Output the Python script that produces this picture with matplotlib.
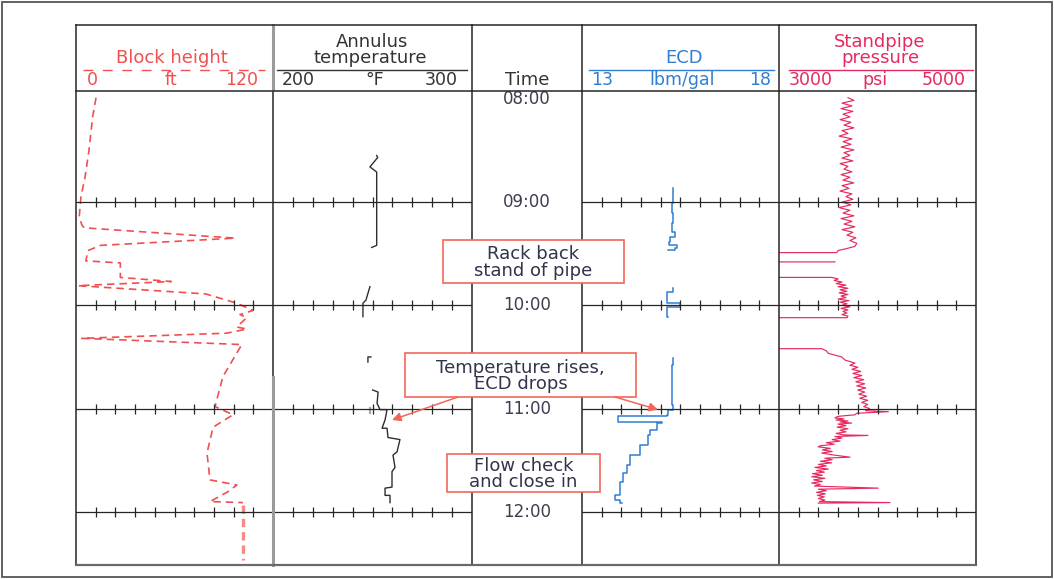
import numpy as np
import matplotlib.pyplot as plt
from matplotlib.patches import Rectangle

plt.rcParams['font.family'] = ['DejaVu Sans']

nan = np.nan

# ---- log data, time in decimal hours ----
block_t = [7.99, 8.17, 8.50, 8.76, 8.95, 9.14, 9.22, 9.25, 9.35, 9.42,
           9.47, 9.57, 9.59, 9.73, 9.77, 9.81, 9.89, 9.98, 10.05, 10.09,
           10.12, 10.21, 10.23, 10.27, 10.32, 10.38, 10.69, 10.98, 11.06, 11.18,
           11.43, 11.69, 11.74, 11.81, 11.90, 11.91]
block_ft = [12.2, 10.2, 7.9, 5.5, 3.0, 2.0, 3.5, 4.9, 97, 15,
            7.3, 6.0, 27, 27, 58, 1.2, 79, 98, 107.8, 99.9,
            104, 97.9, 104, 91.8, 3.5, 101, 89.5, 84.7, 95.6, 83.5,
            79.8, 81.6, 98, 92, 81.6, 101.7]
block_tail_t = [11.93, 12.47]
block_tail_ft = [101.7, 101.7]

temp_t = [8.55, 8.57, 8.66, 8.71, 9.42, 9.44, nan,
          9.82, 9.95, 9.98, 10.11, nan,
          10.55, 10.50, 10.50, nan,
          10.82, 10.84, 10.95, 11.01, 11.01, 11.11, 11.19, 11.19, 11.28, 11.30,
          11.42, 11.45, 11.57, 11.61, 11.76, 11.77, 11.84, 11.84, 11.91]
temp_f = [252.1, 252.6, 248.7, 252.1, 252.1, 249.6, nan,
          248.7, 246.7, 245.2, 245.2, nan,
          247.7, 247.7, 249.2, nan,
          250.1, 252.8, 252.3, 253.8, 257.3, 256.3, 254.8, 257.3, 257.8, 263.8,
          262.3, 260.3, 261.3, 259.8, 259.8, 256.3, 256.3, 258.8, 258.8]
temp_mark_t = [10.99, 11.04]
temp_mark_f = [248.7, 248.7]

ecd_t = [8.86, 9.01, 9.11, 9.20, 9.29, 9.34, 9.39, 9.42, 9.45, 9.46, nan,
         9.83, 9.87, 9.98, 9.98, 10.02, 10.02, 10.11, nan,
         10.51, 10.58, 10.97, 11.01, 11.06, 11.07, 11.13, 11.13, 11.14, 11.21,
         11.26, 11.35, 11.45, 11.55, 11.62, 11.71, 11.82, 11.84, 11.87, 11.88, 11.91]
ecd_ppg = [15.30, 15.28, 15.31, 15.28, 15.36, 15.23, 15.22, 15.40, 15.36, 15.19, nan,
           15.32, 15.15, 15.15, 15.49, 15.49, 15.15, 15.19, nan,
           15.32, 15.28, 15.30, 15.19, 15.15, 13.91, 13.91, 15.02, 14.90, 14.73,
           14.68, 14.47, 14.22, 14.13, 14.04, 13.96, 13.96, 13.84, 13.84, 13.96, 14.01]

# standpipe pressure, first block logged at a fixed sample rate
spp_top_psi = [3700, 3760, 3640, 3740, 3630, 3750, 3650, 3720, 3620, 3730,
               3660, 3760, 3640, 3700, 3610, 3740, 3650, 3730, 3630, 3760,
               3660, 3720, 3640, 3750, 3620, 3700, 3660, 3740, 3630, 3720,
               3650, 3760, 3640, 3710, 3620, 3740, 3680, 3750, 3640, 3730,
               3610, 3720, 3650, 3760, 3630, 3740, 3660, 3770, 3640, 3750,
               3690, 3780, 3720, 3790]
spp_top_start, spp_top_end = 7.99, 9.40

# connections: pressure drops to 0 psi (off scale) while pumps are off
spp_mid_t = [9.43, 9.455, 9.47, 9.49, 9.49, nan,
             9.58, 9.58, nan,
             9.73, 9.73, 9.745, 9.76, 9.775, 9.79, 9.805, 9.82, 9.835, 9.85, 9.865,
             9.88, 9.895, 9.91, 9.925, 9.94, 9.955, 9.97, 9.985, 10.0, 10.015,
             10.03, 10.045, 10.06, 10.075, 10.09, 10.105, 10.12, 10.12, nan]
spp_mid_psi = [3770, 3670, 3600, 3586, 0, nan,
               0, 3568, nan,
               0, 3535, 3600, 3560, 3640, 3580, 3680, 3600, 3700, 3620, 3690,
               3610, 3700, 3630, 3680, 3600, 3710, 3620, 3690, 3640, 3720,
               3630, 3700, 3650, 3690, 3640, 3700, 3690, 0, nan]

spp_late_t = [10.42, 10.42, 10.44, 10.465, 10.48, 10.50, 10.53, 10.56, 10.58, 10.60,
              10.62, 10.64, 10.66, 10.68, 10.70, 10.72, 10.74, 10.76, 10.78, 10.80,
              10.82, 10.84, 10.86, 10.88, 10.90, 10.92, 10.94, 10.96, 10.98, 11.00,
              11.02, 11.03, 11.045, 11.06, 11.075, 11.09, 11.10, 11.11, 11.12, 11.13,
              11.14, 11.15, 11.165, 11.18, 11.195, 11.21, 11.225, 11.24, 11.255, 11.26,
              11.27, 11.285, 11.30, 11.315, 11.33, 11.345, 11.36, 11.37, 11.385, 11.40,
              11.415, 11.43, 11.45, 11.47, 11.48, 11.495, 11.51, 11.525, 11.54, 11.555,
              11.57, 11.585, 11.60, 11.615, 11.63, 11.645, 11.66, 11.675, 11.69, 11.705,
              11.72, 11.735, 11.75, 11.77, 11.78, 11.795, 11.81, 11.825, 11.84, 11.855,
              11.87, 11.885, 11.90, 11.91, 11.915]
spp_late_psi = [0, 3433, 3480, 3500, 3560, 3636, 3670, 3771, 3720, 3800,
                3740, 3830, 3750, 3840, 3760, 3860, 3780, 3870, 3790, 3880,
                3800, 3870, 3810, 3890, 3820, 3900, 3840, 3900, 3860, 3920,
                3880, 4110, 3790, 3771, 3600, 3568, 3660, 3580, 3700, 3620,
                3738, 3600, 3680, 3590, 3700, 3620, 3680, 3580, 3660, 3903,
                3568, 3640, 3540, 3620, 3480, 3560, 3420, 3397, 3520, 3440,
                3540, 3433, 3560, 3721, 3466, 3540, 3420, 3534, 3400, 3480,
                3365, 3500, 3380, 3460, 3340, 3440, 3332, 3466, 3350, 3440,
                3332, 3420, 3360, 4008, 3399, 3480, 3382, 3470, 3390, 3460,
                3400, 3466, 3410, 4127, 3399]

hours = [8, 9, 10, 11, 12]
hour_labels = ['08:00', '09:00', '10:00', '11:00', '12:00']
grid_hours = [9, 10, 11, 12]

# ---- colours ----
INK = '#262626'
RED = '#f0504f'
BLUE = '#2f7fd3'
PINK = '#e52a5f'
BOX = '#f2665a'
TXT = '#33334a'

W, H = 1054, 579
T_TOP, T_BOT = 7.916, 12.514   # time at top / bottom of the log area
Y_TOP, Y_BOT = 90, 565         # log area in pixels

fig = plt.figure(figsize=(W / 100, H / 100), dpi=100)
fig.patch.set_facecolor('white')


def track(x0, x1, lo, hi):
    ax = fig.add_axes([x0 / W, (H - Y_BOT) / H, (x1 - x0) / W, (Y_BOT - Y_TOP) / H])
    ax.set_xlim(lo, hi)
    ax.set_ylim(T_BOT, T_TOP)
    ax.axis('off')
    return ax


def hour_grid(ax, lo, hi):
    xt = lo + (hi - lo) * np.arange(1, 10) / 10
    for h in grid_hours:
        ax.axhline(h, color=INK, lw=0.9, zorder=3)
        ax.plot(xt, [h] * len(xt), ls='none', marker='|', ms=7.5, mew=0.9,
                color=INK, zorder=3)


ax_block = track(76, 273, 0, 120)
ax_temp = track(273, 472, 200, 300)
ax_time = track(472, 582, 0, 1)
ax_ecd = track(582, 779, 13, 18)
ax_spp = track(779, 976, 3000, 5000)

for ax, lo, hi in [(ax_block, 0, 120), (ax_temp, 200, 300),
                   (ax_ecd, 13, 18), (ax_spp, 3000, 5000)]:
    hour_grid(ax, lo, hi)

# block height
ax_block.plot(block_ft, block_t, color=RED, lw=1.2, ls=(0, (4.5, 3)))
ax_block.plot(block_tail_ft, block_tail_t, color='#f58a8a', lw=2.4, ls=(0, (2.5, 1.5)))

# annulus temperature
ax_temp.plot(temp_f, temp_t, color='#2e2e2e', lw=1.0)
ax_temp.plot(temp_mark_f, temp_mark_t, color='#aaaaaa', lw=1.6)

# ECD
ax_ecd.plot(ecd_ppg, ecd_t, color=BLUE, lw=1.1, drawstyle='steps-pre')

# standpipe pressure
spp_top_t = np.linspace(spp_top_start, spp_top_end, len(spp_top_psi))
ax_spp.plot(np.concatenate([spp_top_psi, spp_mid_psi, spp_late_psi]),
            np.concatenate([spp_top_t, spp_mid_t, spp_late_t]), color=PINK, lw=0.85)

# time column
for h, lab in zip(hours, hour_labels):
    ax_time.text(0.5, h, lab, ha='center', va='center', fontsize=12, color='#3d3d50')

# ---- page overlay: frame, headers, notes (pixel coordinates) ----
pg = fig.add_axes([0, 0, 1, 1], zorder=10)
pg.set_xlim(0, W)
pg.set_ylim(H, 0)
pg.axis('off')

pg.add_patch(Rectangle((2, 1.5), W - 4, H - 3.5, fill=False, ec='#555555', lw=1.3))

for x in [76, 273, 472, 582, 779, 976]:
    pg.plot([x, x], [24.5, Y_BOT], color=INK, lw=1.1, zorder=2)
pg.plot([273, 273], [24.5, 90], color='#9a9a9a', lw=2.2, zorder=2)
pg.plot([273, 273], [377, Y_BOT], color='#9a9a9a', lw=2.2, zorder=2)
for y in [24.5, 90.5]:
    pg.plot([76, 976], [y, y], color=INK, lw=1.1, zorder=2)
pg.plot([76, 976], [Y_BOT, Y_BOT], color='#6a6a6a', lw=1.6, zorder=2)

hdr = dict(ha='center', va='baseline', fontsize=13)
num = dict(va='baseline', fontsize=12.5)

# block height header
pg.text(172, 63, 'Block height', color=RED, **hdr)
pg.plot([83, 265], [69.5, 69.5], color=RED, lw=1.0, ls=(0, (7, 7)))
pg.text(87, 85, '0', ha='left', color=RED, **num)
pg.text(171, 85, 'ft', ha='center', color=RED, **num)
pg.text(258, 85, '120', ha='right', color=RED, **num)

# annulus temperature header
pg.text(372, 47, 'Annulus', color='#333333', **hdr)
pg.text(370, 63, 'temperature', color='#333333', **hdr)
pg.plot([277, 467], [69.5, 69.5], color='#333333', lw=1.0)
pg.text(282, 85, '200', ha='left', color='#333333', **num)
pg.text(375, 85, '°F', ha='center', color='#333333', **num)
pg.text(458, 85, '300', ha='right', color='#333333', **num)

pg.text(527, 85, 'Time', color='#333333', **hdr)

# ECD header
pg.text(684, 63, 'ECD', color=BLUE, **hdr)
pg.plot([589, 774], [69.5, 69.5], color=BLUE, lw=1.0)
pg.text(591, 85, '13', ha='left', color=BLUE, **num)
pg.text(682, 85, 'lbm/gal', ha='center', color=BLUE, **num)
pg.text(771, 85, '18', ha='right', color=BLUE, **num)

# standpipe pressure header
pg.text(880, 47, 'Standpipe', color=PINK, **hdr)
pg.text(880, 63, 'pressure', color=PINK, **hdr)
pg.plot([789, 973], [69.5, 69.5], color=PINK, lw=1.0)
pg.text(789, 85, '3000', ha='left', color=PINK, **num)
pg.text(875, 85, 'psi', ha='center', color=PINK, **num)
pg.text(966, 85, '5000', ha='right', color=PINK, **num)

# note boxes
notes = [((443, 240, 624, 283), 'Rack back\nstand of pipe'),
         ((405, 353, 636, 397), 'Temperature rises,\nECD drops'),
         ((447, 454, 600, 492), 'Flow check\nand close in')]
for (x0, y0, x1, y1), txt in notes:
    pg.add_patch(Rectangle((x0, y0), x1 - x0, y1 - y0, fc='white', ec=BOX,
                           lw=1.2, zorder=5))
    pg.text((x0 + x1) / 2, (y0 + y1) / 2 + 1, txt, ha='center', va='center',
            fontsize=13, color=TXT, linespacing=0.92, zorder=6)

arrow = dict(arrowstyle='-|>', color=BOX, lw=1.1, mutation_scale=13,
             shrinkA=0, shrinkB=0)
pg.annotate('', xy=(259.8, 11.11), xycoords=ax_temp.transData,
            xytext=(458, 397), textcoords='data', arrowprops=arrow, zorder=6)
pg.annotate('', xy=(14.93, 11.01), xycoords=ax_ecd.transData,
            xytext=(615, 397), textcoords='data', arrowprops=arrow, zorder=6)

fig.savefig('out.png', dpi=100, facecolor='white')
